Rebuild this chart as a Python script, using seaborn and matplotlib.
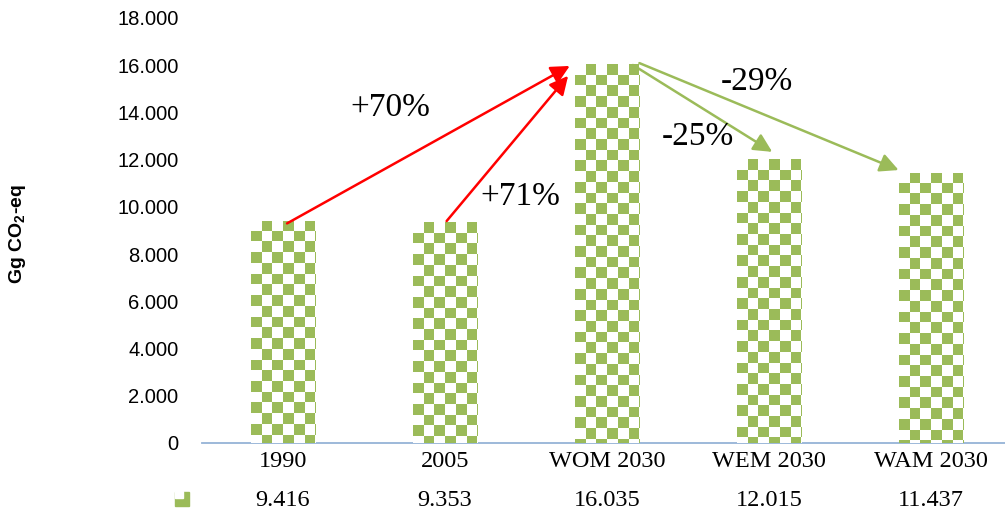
import numpy as np
import pandas as pd
import matplotlib
matplotlib.use("Agg")
import matplotlib.pyplot as plt
import seaborn as sns
from matplotlib.colors import ListedColormap
from matplotlib.patches import FancyArrowPatch, Rectangle

# dati (Gg CO2-eq)
categories = ["1990", "2005", "WOM 2030", "WEM 2030", "WAM 2030"]
values = [9416, 9353, 16035, 12015, 11437]
yticks = list(range(0, 18001, 2000))

GREEN = "#9BBB59"
sns.set_style("white")
plt.rcParams["font.family"] = ["Liberation Sans", "DejaVu Sans"]
plt.rcParams["mathtext.default"] = "regular"
plt.rcParams["text.color"] = "black"
plt.rcParams["xtick.color"] = "black"
plt.rcParams["ytick.color"] = "black"

def fmt(v):
    return f"{v:,}".replace(",", ".")

df = pd.DataFrame({"cat": categories, "val": values})

fig = plt.figure(figsize=(10.05, 5.12), dpi=100)
W, H = 1005, 512
ax = fig.add_axes([202 / W, 69 / H, 810 / W, 425 / H])

sns.barplot(data=df, x="cat", y="val", color=GREEN, width=0.4, ax=ax,
            saturation=1)
ax.set_xlim(-0.5, 4.5)
ax.set_ylim(0, 18000)

# riempimento a scacchiera
cmap = ListedColormap(["white", GREEN])
sq_x = 10.7 / 162
sq_y = 10.7 / 425 * 18000
for p in ax.patches:
    x0, w, h = p.get_x(), p.get_width(), p.get_height()
    ncol = int(np.ceil(w / sq_x)) + 1
    nrow = int(np.ceil(h / sq_y)) + 1
    chk = np.indices((nrow, ncol)).sum(axis=0) % 2
    p.set_facecolor("white")
    p.set_edgecolor("none")
    im = ax.imshow(chk, cmap=cmap, interpolation="nearest", aspect="auto",
                   extent=(x0, x0 + ncol * sq_x, h - nrow * sq_y, h),
                   origin="upper", zorder=3)
    im.set_clip_path(p)
ax.set_xlim(-0.5, 4.5)
ax.set_ylim(0, 18000)

# assi
for s in ["top", "right", "left"]:
    ax.spines[s].set_visible(False)
ax.spines["bottom"].set_color("#95B3D7")
ax.spines["bottom"].set_linewidth(1.3)
ax.set_yticks(yticks)
ax.set_yticklabels([fmt(t) for t in yticks], fontsize=14.5)
ax.tick_params(axis="y", length=0, pad=17)
ax.tick_params(axis="x", length=0, pad=6)
ax.set_xticks(range(len(categories)))
ax.set_xticklabels(categories, fontsize=17.5, family="Liberation Serif")
ax.set_xlabel("")
ax.set_ylabel("")
ax.grid(False)

fig.text(18 / W, 1 - 234 / H, "Gg CO$_2$-eq", rotation=90, fontsize=14,
         fontweight="bold", ha="center", va="center")

# riga tabella dati
for i, v in enumerate(values):
    ax.text(i, -58 / 425 * 18000, fmt(v), ha="center", va="center",
            fontsize=17.5, family="Liberation Serif", clip_on=False)
fig.patches.append(Rectangle((175 / W, 1 - 506 / H), 14 / W, 14 / H,
                             transform=fig.transFigure, color=GREEN))
fig.patches.append(Rectangle((175 / W, 1 - 498 / H), 8 / W, 7 / H,
                             transform=fig.transFigure, color="white"))

# frecce e variazioni percentuali
arrows = [
    ((0.025, 9300), (1.77, 15970), "red"),
    ((1.01, 9400), (1.76, 15550), "red"),
    ((2.16, 16010), (3.02, 12330), GREEN),
    ((2.20, 16090), (3.80, 11560), GREEN),
]
for a, b, c in arrows:
    ax.add_patch(FancyArrowPatch(a, b, arrowstyle="-|>", mutation_scale=28,
                                 color=c, lw=1.8, zorder=5, shrinkA=0,
                                 shrinkB=0))

pct = [
    (values[2] / values[0] - 1, 390, 108),
    (values[2] / values[1] - 1, 520, 197),
    (values[3] / values[2] - 1, 698, 137),
    (values[4] / values[2] - 1, 757, 82),
]
for r, px, py in pct:
    fig.text(px / W, 1 - py / H, f"{r * 100:+.0f}%", fontsize=24,
             family="Liberation Serif", ha="center", va="center")

fig.savefig("out.png", dpi=100)
